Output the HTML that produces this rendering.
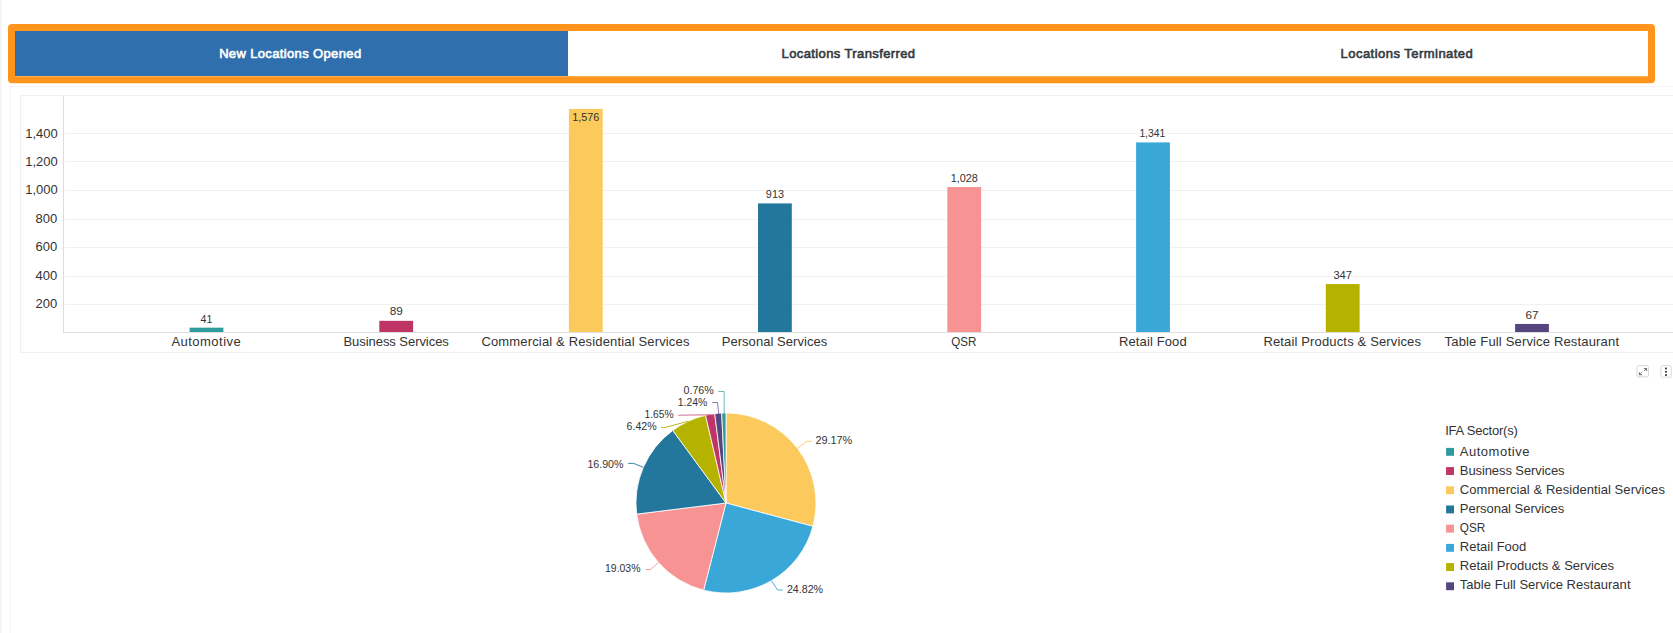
<!DOCTYPE html>
<html lang="en"><head><meta charset="utf-8"><title>Locations Dashboard</title>
<style>
html,body{margin:0;padding:0;background:#fff;}
body{width:1673px;height:633px;overflow:hidden;position:relative;font-family:"Liberation Sans", sans-serif;color:#333;}
.leftband{position:absolute;left:0;top:0;width:2px;height:633px;background:#f5f5f5;}
.tabs{position:absolute;left:11px;top:31px;width:1676px;height:45px;}
.tab{position:absolute;top:0;height:45px;line-height:45px;text-align:center;font-size:13px;font-weight:normal;color:#343a40;-webkit-text-stroke:0.6px #343a40;background:#fff;white-space:nowrap;}
.tab.active{background:#2f6fad;color:#fff;-webkit-text-stroke:0.6px #fff;}
.hl{position:absolute;left:0;top:0;}
.panel{position:absolute;left:10px;top:86px;width:1700px;height:600px;border:1px solid #f4f4f4;box-sizing:border-box;}
.inner{position:absolute;left:20px;top:95px;width:1700px;height:258px;border:1px solid #f0f0f0;box-sizing:border-box;}
svg.chart{position:absolute;left:0;top:0;font-family:"Liberation Sans", sans-serif;}
</style></head>
<body>
<div class="leftband"></div>
<div class="tabs">
<div class="tab active" style="left:0;width:557px"><span style="letter-spacing:0.36px;position:relative;left:0.8px">New Locations Opened</span></div>
<div class="tab" style="left:557px;width:560px"><span style="letter-spacing:0.39px;position:relative;left:0.5px">Locations Transferred</span></div>
<div class="tab" style="left:1117px;width:559px"><span style="letter-spacing:0.47px;position:relative;left:-0.6px">Locations Terminated</span></div>
</div>
<svg class="hl" width="1673" height="100" viewBox="0 0 1673 100"><path fill="#ff951c" fill-rule="evenodd" d="M12,24 H1651 A4,4 0 0 1 1655,28 V79.3 A4,4 0 0 1 1651,83.3 H12 A4,4 0 0 1 8,79.3 V28 A4,4 0 0 1 12,24 Z M15,31 V76.2 H1648 V31 Z"/></svg>
<div class="panel"></div>
<div class="inner"></div>
<svg class="chart" width="1673" height="633" viewBox="0 0 1673 633">
<g class="grid" stroke="#f1f1f1" stroke-width="1" shape-rendering="crispEdges">
<line x1="65" x2="1673" y1="133.5" y2="133.5"/>
<line x1="65" x2="1673" y1="161.5" y2="161.5"/>
<line x1="65" x2="1673" y1="190.5" y2="190.5"/>
<line x1="65" x2="1673" y1="219.5" y2="219.5"/>
<line x1="65" x2="1673" y1="247.5" y2="247.5"/>
<line x1="65" x2="1673" y1="276.5" y2="276.5"/>
<line x1="65" x2="1673" y1="304.5" y2="304.5"/>
</g>
<g class="ticks" stroke="#eeeeee" stroke-width="1" shape-rendering="crispEdges">
<line x1="61" x2="63" y1="134.5" y2="134.5"/>
<line x1="61" x2="63" y1="162.5" y2="162.5"/>
<line x1="61" x2="63" y1="191.5" y2="191.5"/>
<line x1="61" x2="63" y1="220.5" y2="220.5"/>
<line x1="61" x2="63" y1="248.5" y2="248.5"/>
<line x1="61" x2="63" y1="277.5" y2="277.5"/>
<line x1="61" x2="63" y1="305.5" y2="305.5"/>
</g>
<g class="ylabels" font-size="13" fill="#333" text-anchor="end">
<text x="57.8" y="137.8">1,400</text>
<text x="57.8" y="165.8">1,200</text>
<text x="57.8" y="194.3">1,000</text>
<text x="57.3" y="223.3">800</text>
<text x="57.3" y="251.3">600</text>
<text x="57.3" y="280.3">400</text>
<text x="57.3" y="308.3">200</text>
</g>
<g class="bars">
<rect x="189.6" y="327.66" width="33.8" height="4.74" fill="#2e9c9c"/>
<rect x="379.3" y="320.82" width="33.8" height="11.58" fill="#bf3565"/>
<rect x="568.9" y="108.92" width="33.8" height="223.48" fill="#fcc95c"/>
<rect x="758.0" y="203.40" width="33.8" height="129.00" fill="#24779c"/>
<rect x="947.3" y="187.01" width="33.8" height="145.39" fill="#f79393"/>
<rect x="1136.1" y="142.41" width="33.8" height="189.99" fill="#39a8d9"/>
<rect x="1325.8" y="284.05" width="33.8" height="48.35" fill="#b5b200"/>
<rect x="1515.1" y="323.95" width="33.8" height="8.45" fill="#574580"/>
</g>
<g class="axes" stroke="#dedede" stroke-width="1" shape-rendering="crispEdges">
<line x1="63.5" x2="63.5" y1="96" y2="333"/>
<line x1="63" x2="1673" y1="332.5" y2="332.5"/>
</g>
<g class="vlabels" font-size="11" fill="#333" text-anchor="middle">
<text x="206.5" y="323.0" textLength="11.8" lengthAdjust="spacingAndGlyphs">41</text>
<text x="396.2" y="314.9" textLength="13.1" lengthAdjust="spacingAndGlyphs">89</text>
<text x="585.8" y="121.0" textLength="27.1" lengthAdjust="spacingAndGlyphs">1,576</text>
<text x="774.9" y="198.4" textLength="18.1" lengthAdjust="spacingAndGlyphs">913</text>
<text x="964.2" y="181.7" textLength="27.1" lengthAdjust="spacingAndGlyphs">1,028</text>
<text x="1152.3" y="137.4" textLength="25.8" lengthAdjust="spacingAndGlyphs">1,341</text>
<text x="1342.7" y="278.8" textLength="18.5" lengthAdjust="spacingAndGlyphs">347</text>
<text x="1532.0" y="318.9" textLength="13.1" lengthAdjust="spacingAndGlyphs">67</text>
</g>
<g class="xlabels" font-size="13" fill="#333">
<text x="171.4" y="346" textLength="69.3" lengthAdjust="spacing">Automotive</text>
<text x="343.5" y="346" textLength="105.3" lengthAdjust="spacing">Business Services</text>
<text x="481.4" y="346" textLength="208.0" lengthAdjust="spacing">Commercial &amp; Residential Services</text>
<text x="721.7" y="346" textLength="105.5" lengthAdjust="spacing">Personal Services</text>
<text x="951.3" y="346" textLength="25.2" lengthAdjust="spacingAndGlyphs">QSR</text>
<text x="1119.0" y="346" textLength="67.7" lengthAdjust="spacing">Retail Food</text>
<text x="1263.4" y="346" textLength="157.6" lengthAdjust="spacing">Retail Products &amp; Services</text>
<text x="1444.6" y="346" textLength="174.4" lengthAdjust="spacing">Table Full Service Restaurant</text>
</g>
<g class="pie" stroke="#fff" stroke-width="0.8" stroke-linejoin="round">
<path d="M726,503 L726.00,413.00 A90,90 0 0 1 812.92,526.34 Z" fill="#fcc95c"/>
<path d="M726,503 L812.92,526.34 A90,90 0 0 1 703.63,590.17 Z" fill="#39a8d9"/>
<path d="M726,503 L703.63,590.17 A90,90 0 0 1 636.69,514.12 Z" fill="#f79393"/>
<path d="M726,503 L636.69,514.12 A90,90 0 0 1 672.78,430.42 Z" fill="#24779c"/>
<path d="M726,503 L672.78,430.42 A90,90 0 0 1 705.56,415.35 Z" fill="#b5b200"/>
<path d="M726,503 L705.56,415.35 A90,90 0 0 1 714.72,413.71 Z" fill="#bf3565"/>
<path d="M726,503 L714.72,413.71 A90,90 0 0 1 721.71,413.10 Z" fill="#574580"/>
<path d="M726,503 L721.71,413.10 A90,90 0 0 1 726.00,413.00 Z" fill="#2e9c9c"/>
</g>
<g class="leaders" fill="none" stroke-width="1">
<path d="M797.4,448.2 L806.9,441.3 L811.8,441.3" stroke="#fcc95c" stroke-opacity="0.9"/>
<path d="M771.4,580.7 L777.6,590.0 L782.7,590.0" stroke="#39a8d9" stroke-opacity="0.9"/>
<path d="M658.4,562.5 L650.6,569.5 L645.6,569.5" stroke="#f79393" stroke-opacity="0.9"/>
<path d="M643.4,467.4 L633.7,463.4 L628.2,463.4" stroke="#24779c" stroke-opacity="0.9"/>
<path d="M688.4,421.2 L665.5,427.4 L661.1,427.4" stroke="#b5b200" stroke-opacity="0.9"/>
<path d="M711.2,414.8 L678.2,415.2" stroke="#bf3565" stroke-opacity="0.7"/>
<path d="M718.7,414.0 L717.5,402.5 L712.3,402.5" stroke="#574580" stroke-opacity="0.7"/>
<path d="M724.2,414.0 L724.2,391.5 L718.2,391.5" stroke="#2e9c9c" stroke-opacity="0.7"/>
</g>
<g class="plabels" font-size="11" fill="#333">
<text x="815.4" y="443.9" textLength="36.9" lengthAdjust="spacingAndGlyphs">29.17%</text>
<text x="786.9" y="592.8" textLength="36.2" lengthAdjust="spacingAndGlyphs">24.82%</text>
<text x="605.0" y="571.9" textLength="35.5" lengthAdjust="spacingAndGlyphs">19.03%</text>
<text x="587.4" y="467.8" textLength="36.1" lengthAdjust="spacingAndGlyphs">16.90%</text>
<text x="626.6" y="429.7" textLength="30.0" lengthAdjust="spacingAndGlyphs">6.42%</text>
<text x="644.5" y="417.9" textLength="29.1" lengthAdjust="spacingAndGlyphs">1.65%</text>
<text x="677.7" y="405.9" textLength="29.6" lengthAdjust="spacingAndGlyphs">1.24%</text>
<text x="683.5" y="393.8" textLength="30.2" lengthAdjust="spacingAndGlyphs">0.76%</text>
</g>
<g class="legend" font-size="13" fill="#333">
<text x="1445.2" y="435" textLength="72.6" lengthAdjust="spacing">IFA Sector(s)</text>
<rect x="1446.1" y="447.9" width="7.9" height="7.9" fill="#2e9c9c"/>
<text x="1459.8" y="455.6" textLength="69.7" lengthAdjust="spacing">Automotive</text>
<rect x="1446.1" y="467.1" width="7.9" height="7.9" fill="#bf3565"/>
<text x="1459.8" y="474.8" textLength="104.8" lengthAdjust="spacing">Business Services</text>
<rect x="1446.1" y="486.3" width="7.9" height="7.9" fill="#fcc95c"/>
<text x="1459.8" y="493.8" textLength="205.1" lengthAdjust="spacing">Commercial &amp; Residential Services</text>
<rect x="1446.1" y="505.5" width="7.9" height="7.9" fill="#24779c"/>
<text x="1459.8" y="513.3" textLength="104.5" lengthAdjust="spacing">Personal Services</text>
<rect x="1446.1" y="524.7" width="7.9" height="7.9" fill="#f79393"/>
<text x="1459.8" y="532.3" textLength="25.5" lengthAdjust="spacingAndGlyphs">QSR</text>
<rect x="1446.1" y="543.9" width="7.9" height="7.9" fill="#39a8d9"/>
<text x="1459.8" y="551.3" textLength="66.5" lengthAdjust="spacing">Retail Food</text>
<rect x="1446.1" y="563.1" width="7.9" height="7.9" fill="#b5b200"/>
<text x="1459.8" y="570.3" textLength="154.3" lengthAdjust="spacing">Retail Products &amp; Services</text>
<rect x="1446.1" y="582.3" width="7.9" height="7.9" fill="#574580"/>
<text x="1459.8" y="589.3" textLength="170.7" lengthAdjust="spacing">Table Full Service Restaurant</text>
</g>
<g class="buttons">
<rect x="1636.9" y="365.6" width="11.6" height="11.2" rx="2" fill="#fff" stroke="#d8d8d8" stroke-width="1"/>
<path d="M1636.8,377.3 H1648.6" stroke="#ededed" stroke-width="1" fill="none"/>
<path d="M1644,368.5 H1646.6 V371.1 M1646.4,368.7 L1644.1,371 M1639.4,372.2 V374.8 H1642 M1639.6,374.6 L1641.9,372.3" fill="none" stroke="#444" stroke-width="0.75"/>
<rect x="1660.9" y="365.6" width="10.3" height="11.6" rx="2" fill="#fff" stroke="#d8d8d8" stroke-width="1"/>
<path d="M1660.8,377.8 H1671" stroke="#ededed" stroke-width="1" fill="none"/>
<rect x="1665.1" y="367.6" width="1.7" height="1.7" fill="#222"/><rect x="1665.1" y="370.9" width="1.7" height="1.7" fill="#222"/><rect x="1665.1" y="374.2" width="1.7" height="1.7" fill="#222"/>
</g>
</svg>
</body></html>
